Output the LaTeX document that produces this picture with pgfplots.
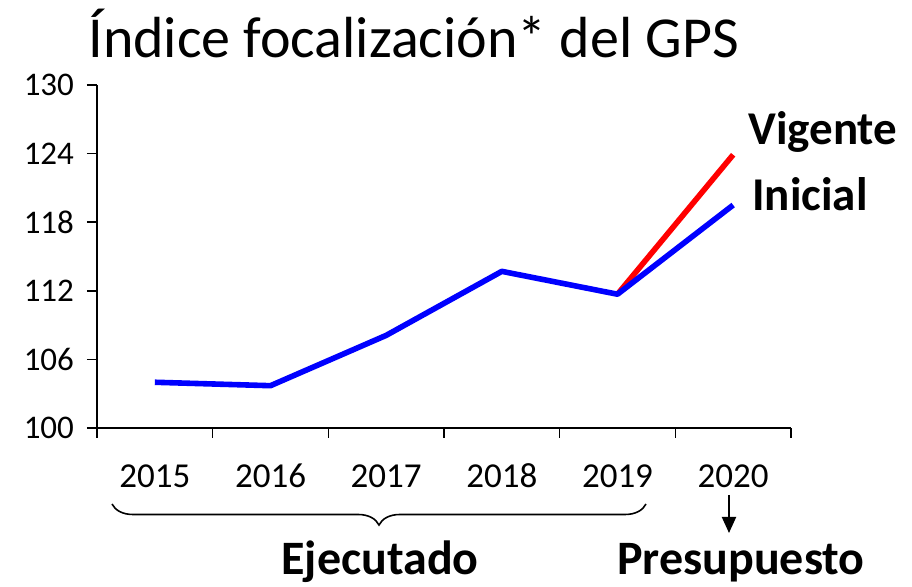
\documentclass[border=0pt]{standalone}
\usepackage{fontspec}
\setmainfont{Carlito}
\usepackage{pgfplots}
\pgfplotsset{compat=1.18}
\usetikzlibrary{decorations.pathreplacing,arrows.meta}

\begin{document}
\begin{tikzpicture}
\useasboundingbox (-48.5pt,-79.5pt) rectangle (407.5pt,214pt);
\begin{axis}[
  at={(0pt,0pt)}, anchor=south west,
  scale only axis, width=347pt, height=171.5pt,
  xmin=0.5, xmax=6.5, ymin=100, ymax=130,
  axis x line=bottom, axis y line=left,
  axis line style={-, line width=0.8pt},
  every tick/.style={black, line width=0.8pt},
  tick align=outside, major tick length=5pt,
  xtick={0.5,1.5,...,6.5}, xticklabels={},
  extra x ticks={1,2,3,4,5,6},
  extra x tick labels={2015,2016,2017,2018,2019,2020},
  extra x tick style={major tick length=0pt,
    xticklabel style={anchor=base, yshift=-30pt, font=\fontsize{17.5}{21}\selectfont}},
  ytick={100,106,...,130},
  yticklabel style={xshift=-3pt},
  tick label style={font=\fontsize{16.5}{20}\selectfont},
  /pgf/number format/assume math mode=true,
  clip=false,
]
\addplot[red, line width=2.8pt] coordinates {(5,111.7) (6,123.9)};
\addplot[blue, line width=2.8pt, line join=round] coordinates {
  (1,104.0) (2,103.7) (3,108.1) (4,113.7) (5,111.7) (6,119.5)};
\end{axis}
\node[anchor=base west, inner sep=0pt, font=\fontsize{29}{35}\selectfont] at (-4.5pt,185pt) {Índice focalización* del GPS};
\node[anchor=base west, inner sep=0pt, font=\bfseries\fontsize{23.5}{28}\selectfont] at (325.5pt,141.5pt) {Vigente};
\node[anchor=base west, inner sep=0pt, font=\bfseries\fontsize{23.5}{28}\selectfont] at (327.5pt,108.5pt) {Inicial};
\draw[decorate, decoration={brace, mirror, amplitude=10.5pt}, line width=0.8pt]
  (7.5pt,-38pt) -- (274.5pt,-38pt);
\draw[-{Triangle[length=8pt,width=7pt]}, line width=1pt] (316pt,-33.5pt) -- (316pt,-52.5pt);
\node[anchor=base, inner sep=0pt, font=\bfseries\fontsize{24}{29}\selectfont] at (141.5pt,-73.5pt) {Ejecutado};
\node[anchor=base, inner sep=0pt, font=\bfseries\fontsize{24}{29}\selectfont] at (322pt,-73.5pt) {Presupuesto};
\end{tikzpicture}
\end{document}
